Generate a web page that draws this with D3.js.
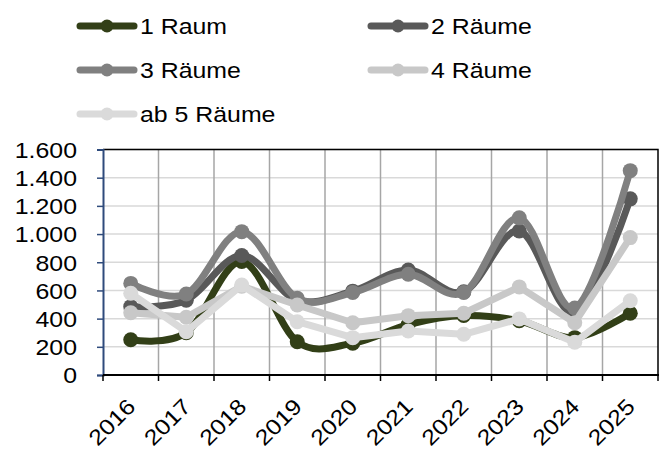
<!DOCTYPE html>
<html>
<head>
<meta charset="utf-8">
<script src="https://cdn.jsdelivr.net/npm/d3@7"></script>
<style>
  body { margin: 0; background: #fff; }
  svg text { font-family: "Liberation Sans", Arial, sans-serif; font-size: 22px; fill: #000; }
</style>
</head>
<body>
<div id="chart"></div>
<script>
// ------------------------------------------------ DATA ------------------------------------------------
var years = ["2016", "2017", "2018", "2019", "2020", "2021", "2022", "2023", "2024", "2025"];
var yTicks = [0, 200, 400, 600, 800, 1000, 1200, 1400, 1600];

var raum1   = [250, 300, 805, 236, 225, 358, 422, 385, 265, 438];
var raeume2 = [485, 530, 848, 530, 595, 745, 590, 1022, 440, 1250];
var raeume3 = [650, 575, 1017, 545, 585, 715, 585, 1115, 475, 1450];
var raeume4 = [442, 410, 630, 497, 371, 421, 438, 625, 371, 975];
var raeume5 = [580, 307, 638, 378, 265, 312, 289, 398, 232, 527];

var seriesNames = ["1 Raum", "2 Räume", "3 Räume", "4 Räume", "ab 5 Räume"];
var seriesColors = ["#323f17", "#595959", "#808080", "#c8c8c8", "#dadada"];
var seriesSmooth = [true, true, true, false, false];
var seriesValues = [raum1, raeume2, raeume3, raeume4, raeume5];

// ------------------------------------------------ SETUP ------------------------------------------------
var width = 668;
var height = 451;
var plotLeft = 103, plotRight = 658, plotTop = 149.5, plotBottom = 375;
var stretch = 1.13;

var svg = d3.select("#chart").append("svg")
    .attr("width", width)
    .attr("height", height);

var x = d3.scaleBand().domain(years).range([plotLeft, plotRight]).padding(0);
var y = d3.scaleLinear().domain([0, 1600]).range([plotBottom, plotTop]);

var de = d3.formatLocale({decimal: ",", thousands: ".", grouping: [3], currency: ["", " €"]});
var fmt = de.format(",d");

// make text a bit wider, like the original rendering
function widen(sel) {
    sel.each(function() {
        var w = this.getComputedTextLength();
        d3.select(this).attr("textLength", w * stretch).attr("lengthAdjust", "spacingAndGlyphs");
    });
}

// ------------------------------------------------ GRID ------------------------------------------------
svg.append("g")
    .selectAll("line")
    .data(yTicks.slice(1))
    .enter().append("line")
    .attr("x1", plotLeft).attr("x2", plotRight)
    .attr("y1", function(d) { return y(d); })
    .attr("y2", function(d) { return y(d); })
    .attr("stroke", "#d9d9d9")
    .attr("stroke-width", 1.5);

svg.append("g")
    .selectAll("line")
    .data(years.slice(1))
    .enter().append("line")
    .attr("x1", function(d) { return x(d); })
    .attr("x2", function(d) { return x(d); })
    .attr("y1", plotTop).attr("y2", plotBottom)
    .attr("stroke", "#a6a6a6")
    .attr("stroke-width", 1.5);

// frame top + right
svg.append("path")
    .attr("d", "M" + plotLeft + "," + plotTop + "H" + plotRight + "V" + plotBottom)
    .attr("fill", "none")
    .attr("stroke", "#000")
    .attr("stroke-width", 1.5);

// ------------------------------------------------ AXES ------------------------------------------------
var yAxis = svg.append("g")
    .attr("transform", "translate(" + plotLeft + ",0)")
    .call(d3.axisLeft(y).tickValues(yTicks).tickFormat(fmt).tickSize(6).tickPadding(20));
yAxis.select(".domain").attr("stroke", "#2f4b7c").attr("stroke-width", 2);
yAxis.selectAll(".tick line").attr("stroke", "#2f4b7c").attr("stroke-width", 1.5);
yAxis.selectAll("text")
    .attr("font-size", null).attr("font-family", null)
    .attr("dy", "0.36em")
    .call(widen);

// x axis line and boundary ticks
var xAxis = svg.append("g");
xAxis.append("line")
    .attr("x1", plotLeft).attr("x2", plotRight + 1)
    .attr("y1", plotBottom).attr("y2", plotBottom)
    .attr("stroke", "#000").attr("stroke-width", 2);
xAxis.selectAll(".bt")
    .data(years.concat(["end"]))
    .enter().append("line")
    .attr("class", "bt")
    .attr("x1", function(d) { return d == "end" ? plotRight : x(d); })
    .attr("x2", function(d) { return d == "end" ? plotRight : x(d); })
    .attr("y1", plotBottom).attr("y2", plotBottom + 6)
    .attr("stroke", "#000").attr("stroke-width", 1.5);

xAxis.selectAll(".lbl")
    .data(years)
    .enter().append("text")
    .attr("class", "lbl")
    .attr("text-anchor", "end")
    .attr("transform", function(d) {
        return "translate(" + (x(d) + x.bandwidth() / 2 + 6) + "," + (plotBottom + 33) + ") rotate(-45)";
    })
    .text(function(d) { return d; })
    .call(widen);

// ------------------------------------------------ LINES ------------------------------------------------
var cx = function(d, i) { return x(years[i]) + x.bandwidth() / 2; };

seriesValues.forEach(function(vals, s) {
    var line = d3.line()
        .x(cx)
        .y(function(d) { return y(d); })
        .curve(seriesSmooth[s] ? d3.curveCardinal.tension(0) : d3.curveLinear);

    var g = svg.append("g").attr("class", "series");
    g.append("path")
        .datum(vals)
        .attr("d", line)
        .attr("fill", "none")
        .attr("stroke", seriesColors[s])
        .attr("stroke-width", 7)
        .attr("stroke-linejoin", "round")
        .attr("stroke-linecap", "round");
    g.selectAll("circle")
        .data(vals)
        .enter().append("circle")
        .attr("cx", cx)
        .attr("cy", function(d) { return y(d); })
        .attr("r", 7.5)
        .attr("fill", seriesColors[s]);
});

// ------------------------------------------------ LEGEND ------------------------------------------------
var legendPos = [[77, 26], [368, 26], [77, 70], [368, 70], [77, 114]];

var legend = svg.append("g").attr("class", "legend");
seriesNames.forEach(function(name, s) {
    var p = legendPos[s];
    var item = legend.append("g").attr("transform", "translate(" + p[0] + "," + p[1] + ")");
    item.append("line")
        .attr("x1", 3).attr("x2", 57)
        .attr("stroke", seriesColors[s])
        .attr("stroke-width", 7)
        .attr("stroke-linecap", "round");
    item.append("circle")
        .attr("cx", 30).attr("r", 6.5)
        .attr("fill", seriesColors[s]);
    item.append("text")
        .attr("x", 63)
        .attr("y", 8)
        .text(name)
        .call(widen);
});
</script>
</body>
</html>
